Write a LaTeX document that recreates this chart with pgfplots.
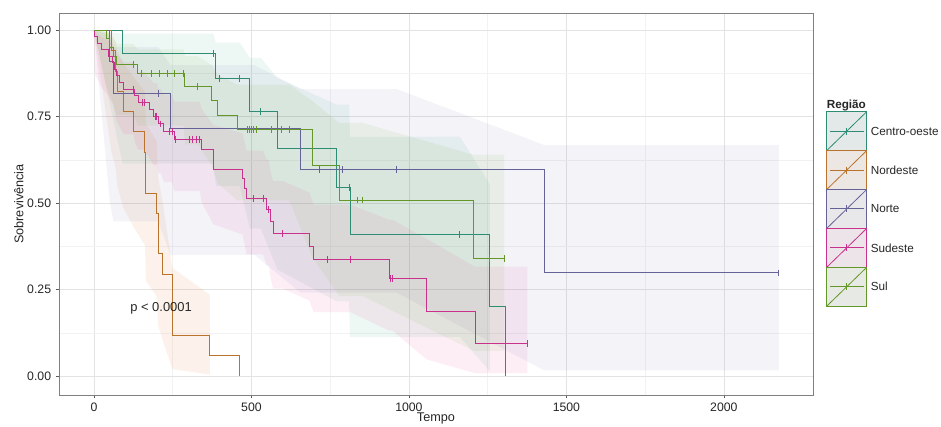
\documentclass[border=0pt]{standalone}
\usepackage{fontspec}
\setmainfont{Liberation Sans}
\usepackage{pgfplots}
\pgfplotsset{compat=1.18}
\usepgfplotslibrary{fillbetween}
\usepackage{pgfplotstable}

\definecolor{co}{RGB}{27,158,119}
\definecolor{ne}{RGB}{217,95,2}
\definecolor{no}{RGB}{117,112,179}
\definecolor{se}{RGB}{231,41,138}
\definecolor{su}{RGB}{102,166,30}
\definecolor{coL}{RGB}{45,140,115}
\definecolor{neL}{RGB}{185,115,45}
\definecolor{noL}{RGB}{100,98,150}
\definecolor{seL}{RGB}{200,50,140}
\definecolor{suL}{RGB}{100,150,40}

% confidence bands: t lo up
\pgfplotstableread{
t lo up
0 1 1
91 0.614 0.990
379 0.614 0.990
387 0.549 0.964
463 0.549 0.964
495 0.426 0.920
530 0.426 0.920
582 0.308 0.862
770 0.216 0.785
810 0.216 0.785
813 0.113 0.692
1162 0.113 0.692
1257 0.013 0.555
}\bandco
\pgfplotstableread{
t lo up
0 1 1
55 0.650 0.992
68 0.606 0.969
75 0.547 0.939
93 0.488 0.905
125 0.432 0.866
162 0.377 0.823
165 0.276 0.730
199 0.230 0.680
204 0.145 0.571
217 0.107 0.511
249 0.020 0.313
368 0.004 0.235
}\bandne
\pgfplotstableread{
t lo up
0 1 1
50 0.508 0.987
62 0.447 0.951
204 0.447 0.951
243 0.350 0.899
510 0.350 0.899
656 0.241 0.830
961 0.241 0.830
1430 0.016 0.668
2175 0.016 0.668
}\bandno
\pgfplotstableread{
t lo up
0 1 1
3 0.873 0.997
12 0.857 0.990
24 0.835 0.981
45 0.811 0.971
60 0.788 0.960
65 0.765 0.948
70 0.743 0.935
80 0.721 0.922
95 0.699 0.908
125 0.699 0.908
130 0.677 0.893
140 0.655 0.879
160 0.655 0.879
175 0.632 0.863
190 0.610 0.847
200 0.610 0.847
205 0.586 0.830
212 0.586 0.830
222 0.561 0.813
248 0.561 0.813
255 0.535 0.794
336 0.535 0.794
342 0.502 0.772
379 0.439 0.726
472 0.409 0.702
478 0.380 0.677
484 0.352 0.652
537 0.352 0.652
548 0.320 0.625
555 0.320 0.625
560 0.286 0.595
569 0.253 0.564
599 0.253 0.564
684 0.218 0.531
697 0.185 0.496
813 0.185 0.496
937 0.131 0.452
948 0.131 0.452
1056 0.048 0.397
1210 0.008 0.316
1376 0.008 0.316
}\bandse
\pgfplotstableread{
t lo up
0 1 1
40 0.835 0.996
50 0.814 0.987
62 0.785 0.975
72 0.755 0.961
125 0.755 0.961
139 0.724 0.945
284 0.724 0.945
289 0.670 0.925
329 0.670 0.925
373 0.610 0.900
393 0.557 0.872
455 0.508 0.843
620 0.508 0.843
693 0.343 0.796
779 0.231 0.732
853 0.231 0.732
1204 0.073 0.640
1302 0.073 0.640
}\bandsu

\begin{document}
\begin{tikzpicture}
\begin{axis}[
  at={(44.25pt,23.25pt)}, anchor=south west,
  scale only axis, width=565.5pt, height=286.5pt,
  xmin=-111, xmax=2283, ymin=-0.055, ymax=1.05,
  xtick={0,500,1000,1500,2000},
  xticklabels={0,500,1000,1500,2000},
  minor xtick={250,750,1250,1750},
  ytick={0,0.25,0.5,0.75,1},
  yticklabels={0.00,0.25,0.50,0.75,1.00},
  minor ytick={0.125,0.375,0.625,0.875},
  xmajorgrids, ymajorgrids, xminorgrids, yminorgrids,
  major grid style={color=black!11, line width=0.5pt},
  minor grid style={color=black!5, line width=0.35pt},
  axis line style={color=black!50, line width=0.6pt},
  tick align=outside, xtick pos=bottom, ytick pos=left,
  major tick length=2.4pt, minor tick length=0pt,
  tick style={color=black!65, line width=0.5pt},
  tick label style={font=\fontsize{9.2}{10}\selectfont, text=black!85},
  xlabel={Tempo}, ylabel={Sobreviv\^encia},
  label style={font=\fontsize{9.5}{11}\selectfont, text=black!85},
  xlabel style={yshift=6pt},
  ylabel style={yshift=-4pt},
  every axis plot/.append style={line width=0.75pt},
]
% bands
\addplot[draw=none, name path=coU] table[x=t,y=up]{\bandco};
\addplot[draw=none, name path=coLo] table[x=t,y=lo]{\bandco};
\addplot[fill=co, fill opacity=0.08, draw=none] fill between[of=coU and coLo];
\addplot[draw=none, name path=neU] table[x=t,y=up]{\bandne};
\addplot[draw=none, name path=neLo] table[x=t,y=lo]{\bandne};
\addplot[fill=ne, fill opacity=0.08, draw=none] fill between[of=neU and neLo];
\addplot[draw=none, name path=noU] table[x=t,y=up]{\bandno};
\addplot[draw=none, name path=noLo] table[x=t,y=lo]{\bandno};
\addplot[fill=no, fill opacity=0.085, draw=none] fill between[of=noU and noLo];
\addplot[draw=none, name path=seU] table[x=t,y=up]{\bandse};
\addplot[draw=none, name path=seLo] table[x=t,y=lo]{\bandse};
\addplot[fill=se, fill opacity=0.08, draw=none] fill between[of=seU and seLo];
\addplot[draw=none, name path=suU] table[x=t,y=up]{\bandsu};
\addplot[draw=none, name path=suLo] table[x=t,y=lo]{\bandsu};
\addplot[fill=su, fill opacity=0.08, draw=none] fill between[of=suU and suLo];

% survival curves
\addplot[const plot, color=coL] coordinates {(0,1) (91,0.933) (387,0.860) (495,0.766) (582,0.658) (770,0.544) (813,0.408) (1257,0.202) (1307,0)};
\addplot[const plot, color=neL] coordinates {(0,1) (55,0.941) (68,0.882) (75,0.824) (93,0.765) (125,0.706) (162,0.647) (165,0.529) (199,0.471) (204,0.353) (217,0.294) (249,0.118) (368,0.059) (463,0)};
\addplot[const plot, color=noL] coordinates {(0,1) (50,0.909) (62,0.818) (243,0.716) (656,0.597) (1430,0.298) (2175,0.298)};
\addplot[const plot, color=seL] coordinates {(0,1) (3,0.981) (12,0.962) (24,0.943) (45,0.925) (60,0.906) (65,0.887) (70,0.868) (80,0.849) (95,0.830) (130,0.811) (140,0.791) (175,0.771) (190,0.751) (205,0.729) (222,0.707) (255,0.684) (342,0.655) (379,0.598) (472,0.570) (478,0.541) (484,0.513) (548,0.481) (560,0.446) (569,0.412) (684,0.375) (697,0.337) (937,0.281) (1056,0.187) (1210,0.094) (1376,0.094)};
\addplot[const plot, color=suL] coordinates {(0,1) (40,0.975) (50,0.95) (62,0.925) (72,0.90) (139,0.874) (289,0.838) (373,0.796) (393,0.754) (455,0.712) (693,0.610) (779,0.509) (1204,0.339) (1302,0.339)};

% censoring marks
\pgfplotsset{cens/.style={only marks, mark=|, mark size=2.6pt, mark options={line width=0.75pt}}}
\addplot[cens, color=coL] coordinates {(379,0.933) (400,0.860) (463,0.860) (530,0.766) (810,0.544) (1162,0.408)};
\addplot[cens, color=noL] coordinates {(204,0.818) (717,0.597) (788,0.597) (961,0.597) (2175,0.298)};
\addplot[cens, color=seL] coordinates {(125,0.830) (155,0.791) (160,0.791) (195,0.751) (200,0.751) (212,0.729) (240,0.707) (248,0.707) (260,0.684) (303,0.684) (313,0.684) (326,0.684) (336,0.684) (505,0.513) (537,0.513) (555,0.481) (599,0.412) (742,0.337) (813,0.337) (940,0.281) (948,0.281) (1376,0.094)};
\addplot[cens, color=suL] coordinates {(125,0.90) (152,0.874) (183,0.874) (208,0.874) (234,0.874) (257,0.874) (284,0.874) (329,0.838) (487,0.712) (493,0.712) (499,0.712) (505,0.712) (515,0.712) (564,0.712) (594,0.712) (620,0.712) (837,0.509) (853,0.509) (1255,0.339) (1302,0.339)};

\node[font=\fontsize{9.7}{11}\selectfont, text=black!85] at (axis cs:213,0.197) {p < 0.0001};
\end{axis}

% legend (pixel coordinates)
\begin{scope}[shift={(0,319.5pt)}, x=0.75pt, y=-0.75pt]
\node[anchor=base west, inner sep=0pt, font=\fontsize{8.8}{10}\selectfont\bfseries, text=black!85] at (826.5,108) {Região};
\foreach \c/\f/\lab [count=\i from 0] in {coL/co/Centro-oeste, neL/ne/Nordeste, noL/no/Norte, seL/se/Sudeste, suL/su/Sul}{
  \pgfmathsetmacro{\ytop}{111.7+38.9*\i}
  \pgfmathsetmacro{\ybot}{\ytop+38.9}
  \pgfmathsetmacro{\ymid}{\ytop+19.45}
  \fill[\f!25!gray!18] (826.7,\ytop) rectangle (866.7,\ybot);
  \draw[\c, line width=0.6pt] (826.7,\ybot) -- (866.7,\ytop);
  \draw[\c, line width=0.75pt] (830,\ymid) -- (863.5,\ymid);
  \draw[\c, line width=0.75pt] (846.7,\ymid-3.5) -- (846.7,\ymid+3.5);
  \draw[\c, line width=0.6pt] (826.7,\ytop) rectangle (866.7,\ybot);
  \node[anchor=west, inner sep=0pt, font=\fontsize{8.8}{10}\selectfont, text=black!85] at (870.5,\ymid) {\lab};
}
\end{scope}
\pgfresetboundingbox
\useasboundingbox (0,0) rectangle (705.75pt,319.5pt);
\end{tikzpicture}
\end{document}
